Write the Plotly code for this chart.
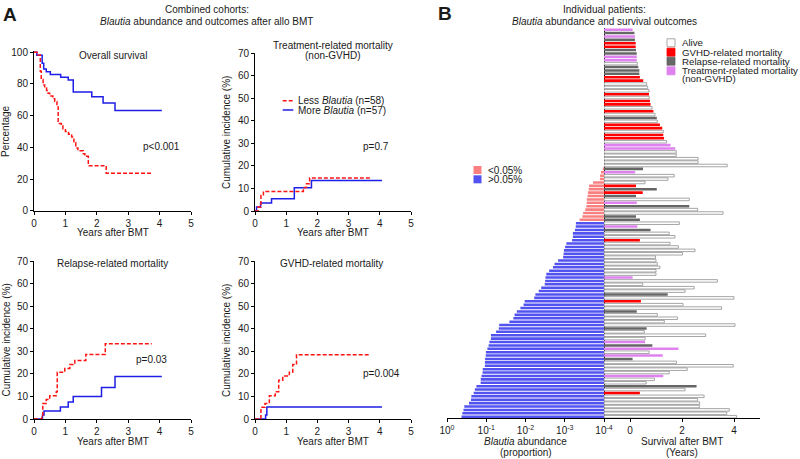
import plotly.graph_objects as go

# ---------------- Panel A: survival / cumulative incidence ----------------
os_less_t = [0, 0.1, 0.2, 0.23, 0.29, 0.34, 0.4, 0.45, 0.5, 0.6, 0.66, 0.73, 0.77, 0.87, 0.92, 1.0, 1.1, 1.2, 1.27, 1.33, 1.4, 1.57, 1.62, 1.73, 2.3, 3.75]
os_less_v = [100, 98.3, 88, 82.8, 79.3, 77.6, 75.9, 74.1, 72.4, 70.7, 69, 65.5, 55, 53.4, 51.7, 50, 48.3, 46.5, 43, 39.6, 37.8, 36, 34.3, 28.4, 23.6, 23.6]
os_more_t = [0, 0.09, 0.26, 0.31, 0.39, 0.52, 0.85, 1.09, 1.25, 1.84, 2.2, 2.58, 4.07]
os_more_v = [100, 98.2, 93, 89.5, 87.7, 86, 84.2, 82.5, 75, 71.9, 68, 63.2, 63.2]

trm_less_t = [0, 0.1, 0.19, 0.27, 1.55, 1.65, 1.75, 3.7]
trm_less_v = [0, 1.8, 6.9, 8.7, 10.4, 12.1, 14.7, 14.7]
trm_more_t = [0, 0.05, 0.18, 0.53, 1.26, 1.81, 4.07]
trm_more_v = [0, 1.8, 3.6, 5.4, 10.3, 13.5, 13.5]

rel_less_t = [0, 0.25, 0.28, 0.39, 0.5, 0.71, 0.74, 0.98, 1.14, 1.3, 1.65, 2.27, 3.75]
rel_less_v = [0, 1.7, 6.9, 8.6, 10.3, 12.1, 20.7, 22.4, 24.1, 25.9, 28.6, 33.3, 33.3]
rel_more_t = [0, 0.27, 0.32, 0.84, 1.09, 1.25, 2.15, 2.58, 4.07]
rel_more_v = [0, 1.75, 3.5, 5.3, 7.5, 10.0, 14.0, 18.8, 18.8]

gv_less_t = [0, 0.19, 0.32, 0.46, 0.65, 0.76, 0.89, 1.1, 1.21, 1.33, 3.7]
gv_less_v = [0, 5.2, 6.9, 10.3, 12.1, 17.2, 19.0, 20.7, 24.1, 28.5, 28.5]
gv_more_t = [0, 0.34, 0.38, 4.07]
gv_more_v = [0, 1.8, 5.3, 5.3]

# ---------------- Panel B: individual patients (top row first) ----------------
# A = alive, G = GVHD-related, R = relapse-related, T = treatment-related (non-GVHD)
outcome = ["T", "R", "T", "R", "G", "G", "R", "R", "T", "T", "A", "R", "R", "R", "G", "G",
           "A", "A", "A", "G", "A", "G", "G", "A", "G", "A", "R", "A", "G", "G", "A", "G",
           "G", "A", "T", "T", "A", "A", "A", "A", "A",
           "R", "T", "A", "A", "A", "G", "R", "G", "R", "A", "T", "R", "A", "A", "R", "R",
           "A", "T", "R", "A", "A", "G", "A", "A", "A", "A", "A", "A", "A", "A", "A", "A",
           "T", "A", "A", "A", "A", "R", "A", "G", "A", "A", "R", "A", "A", "A", "A", "R",
           "A", "A", "A", "T", "R", "T", "A", "T", "R", "A", "A", "A", "A", "T", "A", "A",
           "R", "A", "G", "A", "A", "A", "A", "A", "A", "A"]
survival_years = [0.1, 0.17, 0.19, 0.19, 0.22, 0.22, 0.23, 0.26, 0.26, 0.26, 0.28, 0.32, 0.36, 0.36, 0.38, 0.51,
                  0.64, 0.68, 0.73, 0.73, 0.74, 0.77, 0.79, 0.85, 0.9, 0.96, 1.03, 1.05, 1.15, 1.24, 1.28, 1.28,
                  1.31, 1.41, 1.56, 1.74, 1.78, 1.78, 2.62, 2.62, 3.74,
                  0.5, 0.2, 1.7, 1.46, 0.58, 0.23, 1.03, 0.49, 0.23, 2.28, 0.26, 2.28, 2.6, 3.58, 0.23, 0.38,
                  1.90, 0.28, 0.79, 1.51, 1.73, 0.38, 1.54, 1.86, 2.5, 2.02, 0.98, 1.0, 1.05, 1.15, 1.0, 1.0,
                  0.1, 3.36, 0.49, 2.47, 2.12, 1.45, 4.0, 0.42, 2.04, 3.52, 0.26, 1.05, 1.83, 1.32, 4.04, 0.64,
                  0.55, 2.91, 0.58, 0.58, 0.86, 1.86, 0.74, 1.26, 0.1, 1.79, 3.97, 2.2, 1.51, 1.28, 0.94, 0.62,
                  2.56, 2.12, 0.38, 2.85, 2.6, 2.68, 2.67, 3.82, 3.72, 4.1]
abundance = [None] * 41 + [
    1.07e-4, 1.19e-4, 1.26e-4, 1.27e-4, 1.9e-4, 2.4e-4, 2.45e-4, 2.57e-4, 2.63e-4, 2.75e-4, 2.76e-4, 2.82e-4,
    3.0e-4, 3.4e-4, 3.55e-4, 4.2e-4,
    5.2e-4, 5.25e-4, 5.5e-4, 6.2e-4, 6.21e-4, 6.5e-4, 9.1e-4, 9.8e-4, 1.05e-3, 1.07e-3, 1.1e-3, 1.48e-3,
    1.82e-3, 2.0e-3, 2.5e-3, 2.95e-3, 3.1e-3, 3.16e-3, 3.24e-3, 3.98e-3, 4.6e-3, 5.6e-3, 6.0e-3, 0.0105,
    0.0112, 0.0135, 0.0166, 0.019, 0.0204, 0.0257, 0.0468, 0.0479, 0.0562, 0.0759, 0.076, 0.0832, 0.0871,
    0.0933, 0.102, 0.103, 0.107, 0.108, 0.1085, 0.123, 0.124, 0.132, 0.138, 0.139, 0.178, 0.195, 0.209,
    0.24, 0.245, 0.275, 0.363, 0.38, 0.407, 0.427]
threshold = 5e-4
abund_ticks = [1, 0.1, 0.01, 0.001, 0.0001]
abund_ticktext = ["10<sup>0</sup>", "10<sup>-1</sup>", "10<sup>-2</sup>", "10<sup>-3</sup>", "10<sup>-4</sup>"]
surv_ticks = [0, 2, 4]

FONT = "Arial, 'Liberation Sans', sans-serif"
W, H = 800, 459
RED = "#FF1414"
BLUE = "#1E1EE6"
C_ALIVE = "#FFFFFF"
C_GVHD = "#FF0000"
C_REL = "#666666"
C_TRM = "#DF82EF"
C_LOW = "#F98080"
C_HIGH = "#5252F0"
TXT = "#1a1a1a"


def dx(p):
    return p / W


def dy(p):
    return 1 - p / H


fig = go.Figure()

km_sets = [
    ("x", "y", os_less_t, os_less_v, os_more_t, os_more_v),
    ("x2", "y2", trm_less_t, trm_less_v, trm_more_t, trm_more_v),
    ("x3", "y3", rel_less_t, rel_less_v, rel_more_t, rel_more_v),
    ("x4", "y4", gv_less_t, gv_less_v, gv_more_t, gv_more_v),
]
for xa, ya, lt, lv, mt, mv in km_sets:
    fig.add_trace(go.Scatter(x=mt, y=mv, mode="lines", xaxis=xa, yaxis=ya,
                             line=dict(shape="hv", color=BLUE, width=1.5)))
    fig.add_trace(go.Scatter(x=lt, y=lv, mode="lines", xaxis=xa, yaxis=ya,
                             line=dict(shape="hv", color=RED, width=1.5, dash="4px,2px")))

# Panel B bars
rows = list(range(len(outcome)))
low_y = [r for r in rows if abundance[r] is not None and abundance[r] < threshold]
high_y = [r for r in rows if abundance[r] is not None and abundance[r] >= threshold]
fig.add_trace(go.Bar(orientation="h", y=low_y, x=[abundance[r] for r in low_y], xaxis="x5", yaxis="y5",
                     marker=dict(color=C_LOW, line=dict(width=0))))
fig.add_trace(go.Bar(orientation="h", y=high_y, x=[abundance[r] for r in high_y], xaxis="x5", yaxis="y5",
                     marker=dict(color=C_HIGH, line=dict(width=0))))

styles = {"A": (C_ALIVE, "#8f8f8f", 0.8), "G": (C_GVHD, C_GVHD, 0),
          "R": (C_REL, C_REL, 0), "T": (C_TRM, C_TRM, 0)}
for code, (fc, lc, lw) in styles.items():
    ys = [r for r in rows if outcome[r] == code]
    # bars grow from the axis origin (-1) to the survival time
    fig.add_trace(go.Bar(orientation="h", y=ys, x=[survival_years[r] + 1 for r in ys], base=-1,
                         xaxis="x6", yaxis="y5",
                         marker=dict(color=fc, line=dict(color=lc, width=lw))))

axis_style = dict(showline=True, linecolor="#000", linewidth=1, ticks="outside", ticklen=3,
                  tickcolor="#000", tickwidth=1, showgrid=False, zeroline=False, automargin=False,
                  tickfont=dict(family=FONT, size=10, color=TXT))

left_x = [dx(34), dx(191)]
right_x = [dx(255), dx(411)]
top_y = [dy(211.0), dy(53.3)]
bot_y = [dy(419), dy(261)]

layout_axes = dict(
    xaxis=dict(axis_style, domain=left_x, range=[0, 5], tickvals=[0, 1, 2, 3, 4, 5], anchor="y"),
    yaxis=dict(axis_style, domain=[dy(210.7), dy(50.7)], range=[0, 101], tickvals=[0, 20, 40, 60, 80, 100], anchor="x"),
    xaxis2=dict(axis_style, domain=right_x, range=[0, 5], tickvals=[0, 1, 2, 3, 4, 5], anchor="y2"),
    yaxis2=dict(axis_style, domain=top_y, range=[0, 70], tickvals=list(range(0, 71, 10)), anchor="x2"),
    xaxis3=dict(axis_style, domain=left_x, range=[0, 5], tickvals=[0, 1, 2, 3, 4, 5], anchor="y3"),
    yaxis3=dict(axis_style, domain=bot_y, range=[0, 70], tickvals=list(range(0, 71, 10)), anchor="x3"),
    xaxis4=dict(axis_style, domain=right_x, range=[0, 5], tickvals=[0, 1, 2, 3, 4, 5], anchor="y4"),
    yaxis4=dict(axis_style, domain=bot_y, range=[0, 70], tickvals=list(range(0, 71, 10)), anchor="x4"),
    xaxis5=dict(axis_style, domain=[dx(447), dx(604)], type="log", range=[0, -4], tickvals=abund_ticks,
                ticktext=abund_ticktext, anchor="y5"),
    xaxis6=dict(axis_style, domain=[dx(604), dx(760)], range=[-1, 5], tickvals=surv_ticks, anchor="y5"),
    yaxis5=dict(domain=[dy(418.4), dy(28)], range=[114.5, -0.5], anchor="x5", side="right",
                showline=True, linecolor="#000", linewidth=1, ticks="", showticklabels=False,
                showgrid=False, zeroline=False, automargin=False),
)

ann = []


def text(x, y, s, size=10, xanchor="center", angle=0, bold=False):
    if bold:
        s = "<b>" + s + "</b>"
    ann.append(dict(x=dx(x), y=dy(y), xref="paper", yref="paper", text=s, showarrow=False,
                    xanchor=xanchor, yanchor="middle", textangle=angle,
                    font=dict(family=FONT, size=size, color=TXT)))


text(10, 14.5, "A", size=19, bold=True)
text(444.5, 13.5, "B", size=19, bold=True)
text(207, 9.5, "Combined cohorts:")
text(207, 21.5, "<i>Blautia</i> abundance and outcomes after allo BMT")
text(604, 9.5, "Individual patients:")
text(604, 21.5, "<i>Blautia</i> abundance and survival outcomes")

text(113, 55.3, "Overall survival")
text(332.6, 45.3, "Treatment-related mortality")
text(332.6, 56, "(non-GVHD)")
text(113, 263.7, "Relapse-related mortality")
text(331, 263.7, "GVHD-related mortality")

text(161.7, 146, "p<0.001")
text(375.5, 146, "p=0.7")
text(151.7, 359, "p=0.03")
text(381.5, 373.7, "p=0.004")

text(5.5, 131.5, "Percentage", angle=-90)
text(226, 132, "Cumulative incidence (%)", angle=-90)
text(5.5, 340, "Cumulative incidence (%)", angle=-90)
text(226, 340, "Cumulative incidence (%)", angle=-90)
text(112.5, 232.2, "Years after BMT")
text(333, 232.2, "Years after BMT")
text(112.5, 441.5, "Years after BMT")
text(333, 441.5, "Years after BMT")

text(525.5, 441, "<i>Blautia</i> abundance")
text(525.5, 452.5, "(proportion)")
text(682, 441, "Survival after BMT")
text(682, 452.5, "(Years)")

# KM legend
text(296, 100.7, "Less <i>Blautia</i> (n=58)", xanchor="left")
text(296, 110, "More <i>Blautia</i> (n=57)", xanchor="left")

# Panel B legends
leg1 = [("Alive", C_ALIVE, "#8f8f8f", 42.8), ("GVHD-related mortality", C_GVHD, C_GVHD, 52.2),
        ("Relapse-related mortality", C_REL, C_REL, 61.2), ("Treatment-related mortality", C_TRM, C_TRM, 70.8)]
leg2 = [("<0.05%", C_LOW, 170), (">0.05%", C_HIGH, 179.3)]
shapes = []
for lab, fc, lc, yy in leg1:
    shapes.append(dict(type="rect", xref="paper", yref="paper", x0=dx(667), x1=dx(675), y0=dy(yy + 4),
                       y1=dy(yy - 4), fillcolor=fc, line=dict(color=lc, width=0.8)))
    text(680, yy, lab, size=9.7, xanchor="left")
text(680, 78.7, "(non-GVHD)", size=9.7, xanchor="left")
for lab, fc, yy in leg2:
    shapes.append(dict(type="rect", xref="paper", yref="paper", x0=dx(473.5), x1=dx(481.5), y0=dy(yy + 4),
                       y1=dy(yy - 4), fillcolor=fc, line=dict(width=0)))
    text(486, yy, lab.replace("<", "&lt;").replace(">", "&gt;"), xanchor="left")

shapes.append(dict(type="line", xref="paper", yref="paper", x0=dx(282.7), x1=dx(293.3), y0=dy(100.7),
                   y1=dy(100.7), line=dict(color=RED, width=1.5, dash="4px,2px")))
shapes.append(dict(type="line", xref="paper", yref="paper", x0=dx(282.7), x1=dx(293.3), y0=dy(110),
                   y1=dy(110), line=dict(color=BLUE, width=1.5)))

fig.update_layout(
    template="none",
    width=W, height=H, margin=dict(l=0, r=0, t=0, b=0, autoexpand=False),
    paper_bgcolor="white", plot_bgcolor="white", showlegend=False,
    barmode="overlay", bargap=0.25,
    annotations=ann, shapes=shapes,
    font=dict(family=FONT, size=10, color=TXT),
    **layout_axes,
)

fig.write_html("out.html", config={"displayModeBar": False, "staticPlot": True},
               post_script="document.body.style.margin='0px';document.body.style.overflow='hidden';")
